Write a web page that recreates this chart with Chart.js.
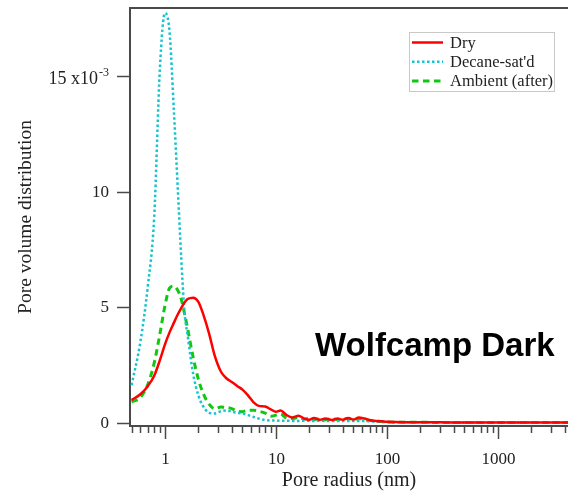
<!DOCTYPE html>
<html>
<head>
<meta charset="utf-8">
<script src="https://cdn.jsdelivr.net/npm/chart.js@4.4.0/dist/chart.umd.min.js"></script>
<style>
  body { margin: 0; background: #fff; }
  #wrap { width: 568px; height: 495px; }
</style>
</head>
<body>
<div id="wrap"><canvas id="psd" width="568" height="495"></canvas></div>
<script>
// pore radius (nm) and pore volume distribution, values in units of 1e-3
const radiusNm = [0.5, 0.6, 0.7, 0.8, 0.9, 1.0, 1.1, 1.2, 1.3, 1.4, 1.5, 1.6, 1.8, 2.0, 2.2, 2.5, 2.8,
    3.2, 3.6, 4, 4.5, 5, 5.6, 6.3, 7, 8, 9, 10, 11, 12.5, 14, 16, 18, 20, 22, 25, 28,
    32, 36, 40, 45, 50, 56, 63, 70, 80, 90, 100, 150, 200, 300, 500, 1000, 2000, 4300];
const dry = [1.0, 1.25, 1.6, 2.05, 2.72, 3.4, 3.92, 4.32, 4.68, 4.97, 5.21, 5.36, 5.42, 5.24, 4.74, 3.87, 2.94,
    2.22, 1.93, 1.78, 1.6, 1.45, 1.2, 0.9, 0.75, 0.72, 0.6, 0.5, 0.55, 0.35, 0.25, 0.32, 0.2, 0.15, 0.22, 0.15, 0.2,
    0.14, 0.2, 0.15, 0.22, 0.16, 0.25, 0.2, 0.14, 0.1, 0.08, 0.06, 0.04, 0.04, 0.04, 0.03, 0.03, 0.03, 0.03];
const decaneSat = [1.64, 3.5, 5.9, 8.9, 15.3, 17.7, 16.9, 13.6, 10.3, 7.2, 4.8, 3.8, 2.1, 1.2, 0.75, 0.45, 0.42,
    0.52, 0.55, 0.5, 0.45, 0.42, 0.35, 0.27, 0.2, 0.14, 0.12, 0.12, 0.1, 0.11, 0.1, 0.1, 0.11, 0.1, 0.1, 0.11, 0.1,
    0.1, 0.1, 0.1, 0.1, 0.1, 0.1, 0.1, 0.08, 0.07, 0.06, 0.05, 0.04, 0.04, 0.03, 0.03, 0.03, 0.03, 0.03];
const ambientAfter = [0.92, 1.11, 1.67, 2.6, 3.85, 5.07, 5.83, 5.92, 5.75, 5.37, 4.74, 4.09, 2.82, 1.9, 1.31, 0.82, 0.63,
    0.7, 0.68, 0.63, 0.52, 0.5, 0.56, 0.56, 0.52, 0.44, 0.3, 0.35, 0.4, 0.22, 0.2, 0.25, 0.18, 0.22, 0.15, 0.2, 0.15,
    0.2, 0.15, 0.18, 0.2, 0.15, 0.2, 0.15, 0.12, 0.1, 0.07, 0.05, 0.04, 0.04, 0.03, 0.03, 0.03, 0.03, 0.03];

const seriesNames = ["Dry", "Decane-sat'd", "Ambient (after)"];
const xMajorTicks = [1, 10, 100, 1000];
const xTickLabels = ["1", "10", "100", "1000"];
const yTicks = [0, 5, 10, 15];
const yTickLabels = ["0", "5", "10", "15 x10"];
const yExponent = "-3";
const annotation = "Wolfcamp Dark";

const AXIS = "#4a4a4a";
const TEXT = "#222";
const SERIF = "'Liberation Serif', 'Times New Roman', serif";

function toPoints(values) {
    return radiusNm.map((r, i) => ({ x: r, y: values[i] }));
}

const axisDecor = {
    id: "axisDecor",
    afterDraw(chart) {
        const { ctx, chartArea: area, scales: { x, y } } = chart;
        ctx.save();
        ctx.strokeStyle = AXIS;
        ctx.lineWidth = 2;

        // top frame line
        ctx.beginPath();
        ctx.moveTo(area.left - 1, area.top);
        ctx.lineTo(area.right, area.top);
        ctx.stroke();

        ctx.lineWidth = 1.5;
        ctx.fillStyle = TEXT;
        ctx.font = `17px ${SERIF}`;

        // y ticks + labels
        yTicks.forEach((v, i) => {
            const py = Math.round(y.getPixelForValue(v)) + 0.5;
            ctx.beginPath();
            ctx.moveTo(area.left - 13, py);
            ctx.lineTo(area.left, py);
            ctx.stroke();
            ctx.textBaseline = "middle";
            if (i === yTicks.length - 1) {
                ctx.font = `12px ${SERIF}`;
                const expW = ctx.measureText(yExponent).width;
                ctx.textAlign = "left";
                ctx.fillText(yExponent, area.left - 21 - expW, py - 4);
                ctx.font = `18px ${SERIF}`;
                ctx.textAlign = "right";
                ctx.fillText(yTickLabels[i], area.left - 22 - expW, py + 3);
                ctx.font = `17px ${SERIF}`;
            } else {
                ctx.textAlign = "right";
                ctx.fillText(yTickLabels[i], area.left - 21, py);
            }
        });

        // x minor ticks
        const bottom = area.bottom;
        for (let dec = 0.1; dec <= 1000; dec *= 10) {
            for (let m = 2; m <= 9; m++) {
                const v = m * dec;
                if (v < x.min || v > x.max) continue;
                const px = Math.round(x.getPixelForValue(v)) + 0.5;
                ctx.beginPath();
                ctx.moveTo(px, bottom);
                ctx.lineTo(px, bottom + 7);
                ctx.stroke();
            }
        }
        // x major ticks + labels
        ctx.textAlign = "center";
        ctx.textBaseline = "middle";
        xMajorTicks.forEach((v, i) => {
            const px = Math.round(x.getPixelForValue(v)) + 0.5;
            ctx.beginPath();
            ctx.moveTo(px, bottom);
            ctx.lineTo(px, bottom + 13);
            ctx.stroke();
            ctx.fillText(xTickLabels[i], px, bottom + 34);
        });

        // legend box
        ctx.strokeStyle = "#c8c8c8";
        ctx.lineWidth = 1;
        ctx.strokeRect(409.5, 32.5, 145, 59);
        ctx.font = `16.5px ${SERIF}`;
        ctx.textAlign = "left";
        chart.data.datasets.forEach((ds, i) => {
            const ly = 42.5 + i * 19.3;
            ctx.beginPath();
            ctx.strokeStyle = ds.borderColor;
            ctx.lineWidth = ds.borderWidth;
            ctx.setLineDash(ds.borderDash || []);
            ctx.moveTo(412, ly);
            ctx.lineTo(443, ly);
            ctx.stroke();
            ctx.setLineDash([]);
            ctx.fillStyle = TEXT;
            ctx.fillText(ds.label, 450, ly + 1);
        });

        // sample name
        ctx.font = `bold 33px 'Liberation Sans', Arial, sans-serif`;
        ctx.fillStyle = "#000";
        ctx.textBaseline = "alphabetic";
        ctx.fillText(annotation, 315, 356);
        ctx.restore();
    },
};

new Chart(document.getElementById("psd"), {
    type: "line",
    data: {
        datasets: [
            {
                label: seriesNames[0],
                data: toPoints(dry),
                borderColor: "rgb(255, 0, 0)",
                borderWidth: 2.5,
            },
            {
                label: seriesNames[1],
                data: toPoints(decaneSat),
                borderColor: "rgb(22, 196, 206)",
                borderWidth: 2.5,
                borderDash: [2.5, 2.5],
            },
            {
                label: seriesNames[2],
                data: toPoints(ambientAfter),
                borderColor: "rgb(16, 200, 16)",
                borderWidth: 3,
                borderDash: [6.5, 4.5],
            },
        ],
    },
    options: {
        responsive: false,
        animation: false,
        layout: { padding: { top: 8, right: 0, left: 0, bottom: 0 } },
        elements: {
            point: { radius: 0 },
            line: { cubicInterpolationMode: "monotone", fill: false },
        },
        plugins: {
            legend: { display: false },
            tooltip: { enabled: false },
        },
        scales: {
            x: {
                type: "logarithmic",
                min: 0.484,
                max: 4300,
                grid: { display: false },
                ticks: { display: false },
                border: { display: true, color: AXIS, width: 2 },
                title: {
                    display: true,
                    text: "Pore radius (nm)",
                    color: TEXT,
                    font: { family: SERIF, size: 20 },
                    padding: { bottom: 2 },
                },
                afterFit(scale) {
                    scale.height = 69;
                },
            },
            y: {
                min: -0.12,
                max: 17.92,
                grid: { display: false },
                ticks: { display: false },
                border: { display: true, color: AXIS, width: 2 },
                title: {
                    display: true,
                    text: "Pore volume distribution",
                    color: TEXT,
                    font: { family: SERIF, size: 19.5 },
                    padding: { top: 14 },
                },
                afterFit(scale) {
                    scale.width = 130;
                },
            },
        },
    },
    plugins: [axisDecor],
});
</script>
</body>
</html>
